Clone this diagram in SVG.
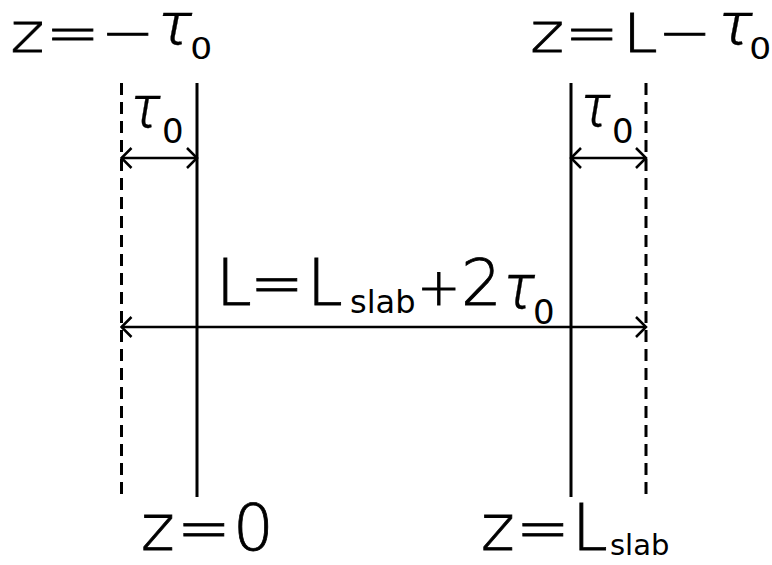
<svg xmlns="http://www.w3.org/2000/svg" width="772" height="565" viewBox="0 0 772 565">
<style>
  .t { font-family: "DejaVu Sans", "Liberation Sans", sans-serif; font-weight: 200; fill: #000; stroke: #000; stroke-width: 0.8; }
  .sub { font-family: "DejaVu Sans", "Liberation Sans", sans-serif; font-weight: 400; stroke: none; }
  .tau { font-family: "Roboto", "Inter", "Noto Sans", sans-serif; font-weight: 300; font-style: italic; stroke-width: 0.3; }
  .solid { stroke: #000; stroke-width: 3; fill: none; }
  .dash { stroke: #000; stroke-width: 3; fill: none; stroke-dasharray: 12 7; }
  .dim { stroke: #000; stroke-width: 2.5; fill: none; marker-start: url(#arr); marker-end: url(#arr); }
</style>
<defs>
  <marker id="arr" viewBox="-13 -12 15 24" refX="0" refY="0" markerWidth="15" markerHeight="24" markerUnits="userSpaceOnUse" orient="auto-start-reverse">
    <path d="M-10,-10 L0,0 L-10,10" fill="none" stroke="#000" stroke-width="2.5"/>
  </marker>
</defs>
<rect width="772" height="565" fill="#fff"/>

<g id="boundaries">
  <line id="left-dashed" class="dash" x1="121.5" y1="83" x2="121.5" y2="497"/>
  <line id="left-solid" class="solid" x1="197" y1="83" x2="197" y2="497"/>
  <line id="right-solid" class="solid" x1="571" y1="83" x2="571" y2="497"/>
  <line id="right-dashed" class="dash" x1="646" y1="83" x2="646" y2="497"/>
</g>

<g id="connectors">
  <line class="dim" x1="121.5" y1="158" x2="197" y2="158"/>
  <line class="dim" x1="571" y1="158" x2="646" y2="158"/>
  <line class="dim" x1="121.5" y1="327" x2="646" y2="327"/>
</g>

<g id="label-top-left" transform="scale(1.15,1)">
  <text class="t" y="52" font-size="56"><tspan x="9.1">z</tspan><tspan x="39.8">=</tspan><tspan x="87.6">−</tspan><tspan class="tau" x="137.6" y="44" font-size="59">τ</tspan><tspan class="sub" x="165.5" y="59" font-size="30">0</tspan></text>
</g>

<g id="label-top-right" transform="scale(1.15,1)">
  <text class="t" y="52" font-size="56"><tspan x="461.2">z</tspan><tspan x="491.1">=</tspan><tspan x="541.7" font-size="54">L</tspan><tspan x="572">−</tspan><tspan class="tau" x="625" y="44" font-size="59">τ</tspan><tspan class="sub" x="651.5" y="59" font-size="30">0</tspan></text>
</g>

<g id="label-tau-left">
  <text class="t"><tspan class="tau" x="131" y="127" font-size="59">τ</tspan><tspan class="sub" x="162" y="143" font-size="34">0</tspan></text>
</g>

<g id="label-tau-right">
  <text class="t"><tspan class="tau" x="581" y="126" font-size="59">τ</tspan><tspan class="sub" x="612" y="143" font-size="34">0</tspan></text>
</g>

<g id="label-length">
  <text class="t" y="305" font-size="64"><tspan x="216">L</tspan><tspan x="250">=</tspan><tspan x="307">L</tspan><tspan class="sub" x="350" y="313" font-size="32">slab</tspan><tspan x="417" y="305" font-size="52">+</tspan><tspan x="461">2</tspan><tspan class="tau" x="504" y="308" font-size="62">τ</tspan><tspan class="sub" x="533" y="324" font-size="34">0</tspan></text>
</g>

<g id="label-bottom-left">
  <text class="t" y="550" font-size="64"><tspan x="141">z</tspan><tspan x="177">=</tspan><tspan x="233">0</tspan></text>
</g>

<g id="label-bottom-right">
  <text class="t" y="550" font-size="64"><tspan x="481">z</tspan><tspan x="516">=</tspan><tspan x="572">L</tspan><tspan class="sub" x="610" y="555" font-size="29">slab</tspan></text>
</g>
</svg>
